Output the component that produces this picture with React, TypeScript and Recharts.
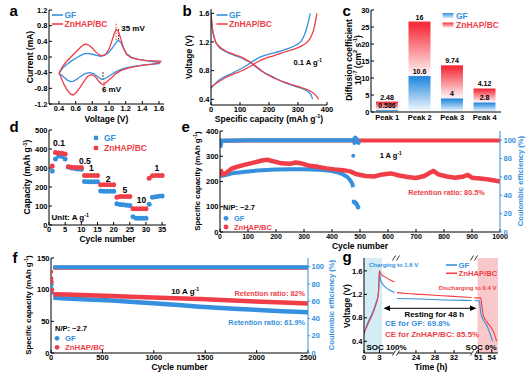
import React from "react";
import {
  LineChart, Line, XAxis, YAxis, ReferenceLine, ReferenceArea,
  BarChart, Bar, LabelList, ScatterChart, Scatter, ComposedChart,
} from "recharts";

const BLUE = "#3590dd";
const RED = "#f03e48";
const FONT = "'Liberation Sans', Arial, Helvetica, sans-serif";

type Pt = [number, number];
const pts = (a: Pt[]) => a.map(([x, y]) => ({ x, y }));

// a: cyclic voltammograms (V, mA)
const cvGF: Pt[] = [
  [0.4, -0.41], [0.45, -0.27], [0.5, -0.18], [0.55, -0.1], [0.6, -0.04], [0.65, 0.03], [0.7, 0.08],
  [0.75, 0.09], [0.8, 0.07], [0.85, 0.04], [0.9, 0.02], [0.95, 0.05], [1.0, 0.12], [1.05, 0.26],
  [1.09, 0.38], [1.11, 0.43], [1.14, 0.38], [1.17, 0.24], [1.21, 0.08], [1.27, -0.01], [1.33, -0.05],
  [1.4, -0.08], [1.5, -0.11], [1.61, -0.14],
  [1.6, -0.17], [1.5, -0.19], [1.4, -0.21], [1.3, -0.24], [1.22, -0.27], [1.15, -0.31], [1.08, -0.38],
  [1.02, -0.46], [0.97, -0.53], [0.93, -0.57], [0.9, -0.56], [0.86, -0.5], [0.82, -0.43], [0.77, -0.4],
  [0.72, -0.42], [0.67, -0.48], [0.62, -0.56], [0.57, -0.62], [0.54, -0.63], [0.5, -0.59], [0.46, -0.52],
  [0.42, -0.45], [0.4, -0.41],
];
const cvZn: Pt[] = [
  [0.4, -0.41], [0.44, -0.25], [0.48, -0.14], [0.52, -0.05], [0.56, 0.04], [0.6, 0.12], [0.64, 0.21],
  [0.68, 0.29], [0.72, 0.33], [0.76, 0.3], [0.8, 0.23], [0.84, 0.13], [0.88, 0.06], [0.92, 0.03],
  [0.96, 0.07], [1.0, 0.2], [1.03, 0.38], [1.06, 0.58], [1.085, 0.7], [1.11, 0.66], [1.14, 0.48],
  [1.17, 0.25], [1.21, 0.07], [1.27, -0.02], [1.35, -0.06], [1.45, -0.09], [1.55, -0.1], [1.62, -0.11],
  [1.6, -0.15], [1.52, -0.18], [1.42, -0.21], [1.32, -0.24], [1.22, -0.29], [1.14, -0.35], [1.08, -0.43],
  [1.03, -0.53], [0.98, -0.62], [0.94, -0.7], [0.91, -0.69], [0.87, -0.6], [0.83, -0.49], [0.79, -0.45],
  [0.75, -0.48], [0.7, -0.62], [0.65, -0.78], [0.61, -0.9], [0.57, -0.97], [0.54, -0.95], [0.5, -0.85],
  [0.46, -0.7], [0.43, -0.55], [0.4, -0.41],
];
const cvTicksX = [0.4, 0.6, 0.8, 1.0, 1.2, 1.4, 1.6];
const cvTicksY = [-1.2, -0.8, -0.4, 0, 0.4, 0.8, 1.2];
const cvMarks = [
  { v: 1.085, from: 0.43, to: 0.86, color: RED },
  { v: 1.115, from: 0.45, to: 0.73, color: "#222" },
  { v: 0.928, from: -0.39, to: -0.6, color: "#222" },
  { v: 0.94, from: -0.64, to: -0.92, color: RED },
];

// b: charge / discharge profiles (mAh/g, V)
const gcdGFDis: Pt[] = [
  [0, 1.6], [3, 1.45], [6, 1.35], [10, 1.27], [16, 1.2], [25, 1.14], [48, 1.07], [77, 1.02], [118, 0.95],
  [140, 0.9], [152, 0.86], [175, 0.79], [210, 0.72], [244, 0.65], [290, 0.58], [325, 0.53], [342, 0.48],
  [348, 0.43], [350, 0.4],
];
const gcdZnDis: Pt[] = [
  [0, 1.6], [2, 1.5], [5, 1.38], [10, 1.28], [16, 1.2], [25, 1.15], [48, 1.08], [77, 1.03], [118, 0.96],
  [152, 0.87], [187, 0.76], [221, 0.69], [267, 0.62], [314, 0.56], [348, 0.5], [362, 0.45], [368, 0.42],
  [371, 0.4],
];
const gcdGFCha: Pt[] = [
  [0, 0.55], [10, 0.6], [25, 0.66], [50, 0.72], [71, 0.76], [95, 0.81], [118, 0.86], [140, 0.92],
  [152, 0.95], [175, 1.0], [200, 1.03], [221, 1.05], [245, 1.08], [267, 1.11], [290, 1.15], [302, 1.18],
  [312, 1.22], [319, 1.27], [326, 1.34], [331, 1.41], [337, 1.5], [342, 1.6],
];
const gcdZnCha: Pt[] = [
  [0, 0.57], [10, 0.6], [25, 0.64], [50, 0.7], [71, 0.74], [95, 0.78], [118, 0.82], [140, 0.87],
  [160, 0.92], [187, 0.97], [210, 1.0], [233, 1.03], [260, 1.07], [279, 1.09], [300, 1.12], [319, 1.16],
  [332, 1.2], [342, 1.25], [348, 1.3], [354, 1.37], [360, 1.48], [365, 1.6],
];

// c: diffusion coefficients (1e-7 cm2/s)
const peaks = ["Peak 1", "Peak 2", "Peak 3", "Peak 4"];
const diffGF = [0.586, 10.6, 4, 2.8];
const diffZn = [2.48, 16, 9.74, 4.12];

// d: rate capability
const rateCycles = [1, 2, 3, 4, 5, 6, 7, 8, 9, 10, 11, 12, 13, 14, 15, 16, 17, 18, 19, 20, 21, 22, 23, 24, 25, 26, 27, 28, 29, 30, 31, 32, 33, 34, 35];
const rateGF = [284, 347, 363, 360, 348, 305, 300, 297, 295, 294, 229, 228, 228, 227, 227, 179, 178, 178, 177, 177, 112, 108, 106, 104, 102, 44, 36, 35, 35, 35, 109, 146, 149, 151, 152];
const rateZn = [310, 381, 379, 377, 374, 306, 304, 303, 302, 302, 260, 260, 260, 260, 260, 212, 212, 212, 212, 212, 146, 150, 150, 150, 150, 85, 85, 85, 85, 85, 246, 259, 260, 260, 260];
const rateLabels = [
  { t: "0.1", c: 3.1, v: 431 }, { t: "0.5", c: 11.1, v: 338 }, { t: "1", c: 13.1, v: 300 }, { t: "2", c: 18.3, v: 245 },
  { t: "5", c: 23.5, v: 187 }, { t: "10", c: 28.6, v: 130 }, { t: "1", c: 33.4, v: 300 },
];

// e: cycling at 1 A/g
const eCapZn: Pt[] = [
  [1, 248], [5, 238], [10, 228], [20, 232], [40, 250], [60, 258], [90, 267], [120, 275], [150, 283],
  [170, 286], [190, 280], [220, 272], [250, 270], [270, 275], [290, 272], [320, 262], [350, 258],
  [380, 252], [410, 248], [440, 245], [465, 240], [485, 230], [520, 222], [550, 220], [580, 228],
  [610, 232], [640, 224], [670, 218], [700, 214], [730, 222], [750, 235], [762, 242], [780, 228],
  [810, 220], [840, 215], [870, 220], [885, 226], [900, 215], [930, 212], [960, 208], [990, 202], [1000, 200],
];
const eCapGF: Pt[] = [
  [1, 222], [20, 226], [50, 234], [100, 240], [150, 245], [200, 248], [250, 249], [300, 249], [350, 247],
  [390, 243], [420, 236], [440, 228], [455, 218], [465, 205], [472, 192], [476, 178],
];
const eCapGFFail: Pt[] = [[478, 120], [481, 118], [484, 115], [487, 112], [490, 106], [493, 98]];
const eCeZn: Pt[] = [[1, 96], [6, 99.3], [100, 99.7], [300, 99.7], [500, 99.7], [700, 99.7], [1000, 99.7]];
const eCeGF: Pt[] = [[1, 92], [6, 99.5], [100, 99.8], [300, 99.8], [470, 99.8], [474, 99.5]];
const eCeGFFail: Pt[] = [[476, 83], [478, 101], [480, 97], [483, 103], [486, 98], [489, 101], [492, 99], [495, 97]];

// f: cycling at 10 A/g
const fCapZn: Pt[] = [[22, 92.8], [150, 92.3], [300, 91.7], [590, 90.1], [915, 88], [1206, 86.5], [1450, 85.3], [1825, 82.5], [2200, 80], [2500, 78]];
const fCapGF: Pt[] = [[22, 87.2], [150, 86], [300, 85], [590, 82.8], [915, 79.5], [1206, 76], [1450, 73], [1825, 69.5], [2200, 66.5], [2500, 64.3]];
const fCapZnStart: Pt[] = [[2, 96], [4, 118], [7, 112], [12, 100]];
const fCapGFStart: Pt[] = [[2, 103], [4, 113], [7, 108], [12, 95]];
const fCeZn: Pt[] = [[22, 98.6], [600, 98.7], [1200, 98.7], [1800, 98.6], [2500, 98.6]];
const fCeGF: Pt[] = [[22, 99.2], [600, 99.3], [1200, 99.3], [1800, 99.2], [2500, 99.2]];
const fCeStart: Pt[] = [[2, 94]];

// g: self-discharge test (h, V)
const gGF1: Pt[] = [[0, 0.52], [0.4, 0.64], [0.9, 0.75], [1.5, 0.86], [2.0, 0.97], [2.4, 1.08], [2.7, 1.17], [2.85, 1.3], [2.95, 1.48], [3.0, 1.6], [3.15, 1.47], [3.5, 1.39], [4.2, 1.32], [5.0, 1.27], [5.9, 1.23]];
const gZn1: Pt[] = [[0, 0.55], [0.4, 0.62], [0.9, 0.72], [1.5, 0.83], [2.0, 0.94], [2.4, 1.05], [2.7, 1.15], [2.85, 1.3], [2.95, 1.5], [3.0, 1.6], [3.15, 1.57], [3.5, 1.53], [4.2, 1.49], [5.0, 1.45], [5.9, 1.41]];
const gGF2: Pt[] = [[20, 1.13], [25, 1.12], [30, 1.105], [35.7, 1.095]];
const gZn2: Pt[] = [[20, 1.23], [22, 1.215], [25, 1.2], [28, 1.185], [31, 1.17], [34, 1.155], [35.7, 1.145]];
const gGF3: Pt[] = [[50.1, 1.09], [51.2, 1.09], [51.5, 0.9], [52.1, 0.76], [52.9, 0.67], [53.6, 0.53], [54.2, 0.4]];
const gZn3: Pt[] = [[50.1, 1.14], [51.5, 1.14], [51.75, 1.02], [52.1, 0.84], [52.9, 0.73], [53.6, 0.66], [54.4, 0.56], [55.1, 0.4]];

type Geo = { x0: number; y0: number; x1: number; y1: number; lw: number; rw: number; mt: number; bh: number };
function frame(g: Geo, rightAxis = false) {
  return {
    style: { position: "absolute" as const, left: g.x0 - g.lw, top: g.y0 - g.mt },
    width: g.x1 - g.x0 + g.lw + g.rw,
    height: g.y1 - g.y0 + g.mt + g.bh,
    margin: { top: g.mt, right: rightAxis ? 0 : g.rw, bottom: 0, left: 0 },
  };
}

const tickFont = { fontSize: 7.5, fontWeight: 700, fill: "#000" };
const axX = { stroke: "#000", tickSize: -3, tickMargin: 5, interval: 0 as const, tick: tickFont, allowDataOverflow: true };
const axY = { stroke: "#000", tickSize: -3, tickMargin: 4.5, interval: 0 as const, tick: tickFont, allowDataOverflow: true };
const f1 = (v: number) => v.toFixed(1);

const topMirror = <XAxis xAxisId="top" orientation="top" type="number" domain={[0, 1]} tick={false} tickLine={false} height={0} stroke="#000" />;
const rightMirror = <YAxis yAxisId="rm" orientation="right" type="number" domain={[0, 1]} tick={false} tickLine={false} width={0} stroke="#000" />;

const dotShape = (color: string, r: number) => (p: any) => <circle cx={p.cx} cy={p.cy} r={r} fill={color} />;

function PanelA() {
  const f = frame({ x0: 49, y0: 10, x1: 164, y1: 104, lw: 30, rw: 8, mt: 4, bh: 12 });
  return (
    <div style={f.style}>
      <LineChart width={f.width} height={f.height} margin={f.margin}>
        <XAxis type="number" dataKey="x" domain={[0.28, 1.66]} ticks={cvTicksX} tickFormatter={f1} height={12} {...axX} />
        <YAxis type="number" domain={[-1.2, 1.2]} ticks={cvTicksY} tickFormatter={f1} width={30} {...axY} />
        {topMirror}
        {rightMirror}
        {cvMarks.map((m, i) => (
          <ReferenceLine key={i} segment={[{ x: m.v, y: m.from }, { x: m.v, y: m.to }]} stroke={m.color} strokeWidth={1.1} strokeDasharray="1.5 1.5" />
        ))}
        <Line data={pts(cvGF)} dataKey="y" type="linear" stroke={BLUE} strokeWidth={1.3} dot={false} isAnimationActive={false} />
        <Line data={pts(cvZn)} dataKey="y" type="linear" stroke={RED} strokeWidth={1.3} dot={false} isAnimationActive={false} />
      </LineChart>
    </div>
  );
}

function PanelB() {
  const f = frame({ x0: 211, y0: 9, x1: 327, y1: 105, lw: 22, rw: 10, mt: 4, bh: 12 });
  return (
    <div style={f.style}>
      <LineChart width={f.width} height={f.height} margin={f.margin}>
        <XAxis type="number" dataKey="x" domain={[0, 400]} ticks={[0, 100, 200, 300, 400]} height={12} {...axX} />
        <YAxis type="number" domain={[0.32, 1.66]} ticks={[0.4, 0.8, 1.2, 1.6]} tickFormatter={f1} width={22} {...axY} />
        {topMirror}
        {rightMirror}
        <Line data={pts(gcdGFDis)} dataKey="y" type="monotone" stroke={BLUE} strokeWidth={1.3} dot={false} isAnimationActive={false} />
        <Line data={pts(gcdGFCha)} dataKey="y" type="monotone" stroke={BLUE} strokeWidth={1.3} dot={false} isAnimationActive={false} />
        <Line data={pts(gcdZnDis)} dataKey="y" type="monotone" stroke={RED} strokeWidth={1.3} dot={false} isAnimationActive={false} />
        <Line data={pts(gcdZnCha)} dataKey="y" type="monotone" stroke={RED} strokeWidth={1.3} dot={false} isAnimationActive={false} />
      </LineChart>
    </div>
  );
}

const peakLabels = (p: any) => {
  const vb = p.viewBox || p;
  const i = p.index ?? 0;
  const cx = vb.x + vb.width / 2;
  return (
    <g>
      <text x={cx} y={vb.y - 2} textAnchor="middle" fontSize={7} fontWeight={700} fill="#000">{diffZn[i]}</text>
      <text x={cx} y={vb.y + vb.height - 2} textAnchor="middle" fontSize={7} fontWeight={700} fill="#000">{diffGF[i]}</text>
    </g>
  );
};

function PanelC() {
  const f = frame({ x0: 371, y0: 10, x1: 501, y1: 112, lw: 18, rw: 4, mt: 4, bh: 12 });
  const rows = peaks.map((p, i) => ({ peak: p, gf: diffGF[i], zn: diffZn[i] }));
  return (
    <div style={f.style}>
      <BarChart width={f.width} height={f.height} margin={f.margin} data={rows} barSize={22}>
        <defs>
          <linearGradient id="barBlue" x1="0" y1="0" x2="0" y2="1">
            <stop offset="0" stopColor="#2b8de0" />
            <stop offset="0.08" stopColor="#2b8de0" />
            <stop offset="1" stopColor="#2b8de0" stopOpacity={0.03} />
          </linearGradient>
          <linearGradient id="barRed" x1="0" y1="0" x2="0" y2="1">
            <stop offset="0" stopColor="#f5303c" />
            <stop offset="0.08" stopColor="#f5303c" />
            <stop offset="1" stopColor="#f5303c" stopOpacity={0.03} />
          </linearGradient>
        </defs>
        <XAxis dataKey="peak" height={12} {...axX} tickSize={0} tickMargin={3} />
        <YAxis type="number" domain={[0, 30]} ticks={[0, 5, 10, 15, 20, 25, 30]} width={18} {...axY} />
        {topMirror}
        {rightMirror}
        <Bar dataKey="gf" stackId="s" fill="url(#barBlue)" isAnimationActive={false} />
        <Bar dataKey="zn" stackId="s" fill="url(#barRed)" isAnimationActive={false}>
          <LabelList dataKey="zn" content={peakLabels} />
        </Bar>
      </BarChart>
    </div>
  );
}

function PanelD() {
  const f = frame({ x0: 49, y0: 130, x1: 166, y1: 225, lw: 24, rw: 6, mt: 4, bh: 12 });
  const gf = rateCycles.map((c, i) => ({ x: c, y: rateGF[i] }));
  const zn = rateCycles.map((c, i) => ({ x: c, y: rateZn[i] }));
  return (
    <div style={f.style}>
      <ScatterChart width={f.width} height={f.height} margin={f.margin}>
        <XAxis type="number" dataKey="x" domain={[0, 36.2]} ticks={[0, 5, 10, 15, 20, 25, 30, 35]} height={12} {...axX} />
        <YAxis type="number" dataKey="y" domain={[0, 500]} ticks={[0, 100, 200, 300, 400, 500]} width={24} {...axY} />
        {topMirror}
        {rightMirror}
        <Scatter data={gf} fill={BLUE} shape={dotShape(BLUE, 2.5)} isAnimationActive={false} />
        <Scatter data={zn} fill={RED} shape={dotShape(RED, 2.5)} isAnimationActive={false} />
      </ScatterChart>
    </div>
  );
}

const ceAxisTick = { ...tickFont, fill: BLUE };

function PanelE() {
  const f = frame({ x0: 220, y0: 131, x1: 500, y1: 232, lw: 20, rw: 22, mt: 4, bh: 12 }, true);
  return (
    <div style={f.style}>
      <ComposedChart width={f.width} height={f.height} margin={f.margin}>
        <XAxis type="number" dataKey="x" domain={[0, 1000]} ticks={[0, 100, 200, 300, 400, 500, 600, 700, 800, 900, 1000]} height={12} {...axX} tick={{ ...tickFont, fontSize: 7 }} />
        <YAxis yAxisId="cap" type="number" dataKey="y" domain={[0, 400]} ticks={[0, 100, 200, 300, 400]} width={20} {...axY} />
        <YAxis yAxisId="ce" orientation="right" type="number" dataKey="y" domain={[0, 110]} ticks={[0, 20, 40, 60, 80, 100]} width={22} {...axY} stroke={BLUE} tick={ceAxisTick} tickSize={2} tickMargin={1.5} />
        {topMirror}
        <Line yAxisId="ce" data={pts(eCeZn)} dataKey="y" type="linear" stroke={RED} strokeWidth={4} dot={false} isAnimationActive={false} />
        <Line yAxisId="ce" data={pts(eCeGF)} dataKey="y" type="linear" stroke={BLUE} strokeWidth={4} dot={false} isAnimationActive={false} />
        <Scatter yAxisId="ce" data={pts(eCeGFFail)} fill={BLUE} shape={dotShape(BLUE, 2)} isAnimationActive={false} />
        <Line yAxisId="cap" data={pts(eCapGF)} dataKey="y" type="linear" stroke={BLUE} strokeWidth={4} strokeLinejoin="round" dot={false} isAnimationActive={false} />
        <Line yAxisId="cap" data={pts(eCapZn)} dataKey="y" type="linear" stroke={RED} strokeWidth={4.5} strokeLinejoin="round" dot={false} isAnimationActive={false} />
        <Scatter yAxisId="cap" data={pts(eCapGFFail)} fill={BLUE} shape={dotShape(BLUE, 2.2)} isAnimationActive={false} />
      </ComposedChart>
    </div>
  );
}

function PanelF() {
  const f = frame({ x0: 51, y0: 258, x1: 308, y1: 353, lw: 22, rw: 20, mt: 4, bh: 12 }, true);
  return (
    <div style={f.style}>
      <ComposedChart width={f.width} height={f.height} margin={f.margin}>
        <XAxis type="number" dataKey="x" domain={[0, 2500]} ticks={[0, 500, 1000, 1500, 2000, 2500]} height={12} {...axX} />
        <YAxis yAxisId="cap" type="number" dataKey="y" domain={[0, 150]} ticks={[0, 50, 100, 150]} width={22} {...axY} />
        <YAxis yAxisId="ce" orientation="right" type="number" dataKey="y" domain={[0, 110]} ticks={[0, 20, 40, 60, 80, 100]} width={20} {...axY} stroke={BLUE} tick={ceAxisTick} tickSize={2} tickMargin={1.5} />
        {topMirror}
        <Line yAxisId="ce" data={pts(fCeZn)} dataKey="y" type="linear" stroke={RED} strokeWidth={4} dot={false} isAnimationActive={false} />
        <Line yAxisId="ce" data={pts(fCeGF)} dataKey="y" type="linear" stroke={BLUE} strokeWidth={4} dot={false} isAnimationActive={false} />
        <Scatter yAxisId="ce" data={pts(fCeStart)} fill={RED} shape={dotShape(RED, 2)} isAnimationActive={false} />
        <Line yAxisId="cap" data={pts(fCapGF)} dataKey="y" type="linear" stroke={BLUE} strokeWidth={4.5} dot={false} isAnimationActive={false} />
        <Line yAxisId="cap" data={pts(fCapZn)} dataKey="y" type="linear" stroke={RED} strokeWidth={4.5} dot={false} isAnimationActive={false} />
        <Scatter yAxisId="cap" data={pts(fCapGFStart)} fill={BLUE} shape={dotShape(BLUE, 2)} isAnimationActive={false} />
        <Scatter yAxisId="cap" data={pts(fCapZnStart)} fill={RED} shape={dotShape(RED, 2)} isAnimationActive={false} />
      </ComposedChart>
    </div>
  );
}

const gTicksY = [0.4, 0.8, 1.2, 1.6];
const gDomainY: [number, number] = [0.2, 1.82];

function GSegment({ geo, domain, ticks, gf, zn, first, last, shade }: any) {
  const f = frame(geo);
  return (
    <div style={f.style}>
      <LineChart width={f.width} height={f.height} margin={f.margin}>
        <XAxis type="number" dataKey="x" domain={domain} ticks={ticks} height={12} {...axX} />
        {first ? (
          <YAxis type="number" domain={gDomainY} ticks={gTicksY} tickFormatter={f1} width={geo.lw} {...axY} />
        ) : (
          <YAxis type="number" domain={gDomainY} hide allowDataOverflow />
        )}
        {topMirror}
        {last ? rightMirror : null}
        {shade ? <ReferenceArea x1={shade.x1} x2={shade.x2} fill={shade.color} fillOpacity={1} stroke="none" ifOverflow="hidden" /> : null}
        <Line data={pts(gf)} dataKey="y" type="monotone" stroke={BLUE} strokeWidth={1.1} dot={false} isAnimationActive={false} />
        <Line data={pts(zn)} dataKey="y" type="monotone" stroke={RED} strokeWidth={1.1} dot={false} isAnimationActive={false} />
      </LineChart>
    </div>
  );
}

function PanelG() {
  return (
    <>
      <GSegment geo={{ x0: 364, y0: 258, x1: 396, y1: 353, lw: 18, rw: 0, mt: 4, bh: 12 }} domain={[0, 6.2]} ticks={[0, 3]} gf={gGF1} zn={gZn1} first shade={{ x1: 0, x2: 3.5, color: "#d4ecf3" }} />
      <GSegment geo={{ x0: 396, y0: 258, x1: 474, y1: 353, lw: 0, rw: 0, mt: 4, bh: 12 }} domain={[19.8, 36.2]} ticks={[24, 28, 32]} gf={gGF2} zn={gZn2} />
      <GSegment geo={{ x0: 474, y0: 258, x1: 498, y1: 353, lw: 0, rw: 6, mt: 4, bh: 12 }} domain={[50, 55.4]} ticks={[51, 54]} gf={gGF3} zn={gZn3} last shade={{ x1: 50.8, x2: 55.4, color: "#f9c8ca" }} />
    </>
  );
}

function Txt({ x, y, size = 8.5, fill = "#000", anchor = "middle", rot, children }: any) {
  return (
    <text x={x} y={y + size * 0.36} fontSize={size} fontWeight={700} fill={fill} textAnchor={anchor}
      transform={rot ? `rotate(${rot} ${x} ${y})` : undefined}>
      {children}
    </text>
  );
}

const sup = (t: string, s: number, rest = "\u200a") => [
  <tspan key="s" dy={-s * 0.38} fontSize={s * 0.65}>{t}</tspan>,
  <tspan key="r" dy={s * 0.38}>{rest}</tspan>,
];

function LegendLine({ x, y, color, label, size = 8.5 }: any) {
  return (
    <g>
      <line x1={x} y1={y} x2={x + 11} y2={y} stroke={color} strokeWidth={1.6} />
      <Txt x={x + 12.5} y={y} size={size} fill={color} anchor="start">{label}</Txt>
    </g>
  );
}

function LegendDot({ x, y, color, label, size = 8 }: any) {
  return (
    <g>
      <circle cx={x} cy={y} r={2.4} fill={color} />
      <Txt x={x + 8} y={y} size={size} fill={color} anchor="start">{label}</Txt>
    </g>
  );
}

function Overlay() {
  const letters = [
    { t: "a", x: 9.5, y: 15.5 }, { t: "b", x: 182.5, y: 15.5 }, { t: "c", x: 342.5, y: 15.5 },
    { t: "d", x: 9.5, y: 132 }, { t: "e", x: 181.5, y: 131.5 }, { t: "f", x: 12.5, y: 262.5 }, { t: "g", x: 342.5, y: 261.5 },
  ];
  // d-panel rate labels use the same linear mapping as the chart box
  const dx = (c: number) => 49 + (c / 36.2) * 117;
  const dy = (v: number) => 225 - (v / 500) * 95;
  return (
    <svg width={530} height={372} style={{ position: "absolute", left: 0, top: 0, pointerEvents: "none", fontFamily: FONT }}>
      <defs>
        <linearGradient id="legBlue" x1="0" y1="0" x2="0" y2="1">
          <stop offset="0" stopColor="#2b8de0" />
          <stop offset="1" stopColor="#2b8de0" stopOpacity={0.15} />
        </linearGradient>
        <linearGradient id="legRed" x1="0" y1="0" x2="0" y2="1">
          <stop offset="0" stopColor="#f5303c" />
          <stop offset="1" stopColor="#f5303c" stopOpacity={0.15} />
        </linearGradient>
      </defs>
      {letters.map((l) => (
        <text key={l.t} x={l.x} y={l.y} fontSize={15} fontWeight={700} fill="#000">{l.t}</text>
      ))}

      {/* a */}
      <Txt x={30} y={57} rot={-90}>Current (mA)</Txt>
      <Txt x={106.5} y={118.5}>Voltage (V)</Txt>
      <LegendLine x={52} y={15} color={BLUE} label="GF" />
      <LegendLine x={52} y={24} color={RED} label="ZnHAP/BC" />
      <Txt x={133} y={28.5} size={8}>35 mV</Txt>
      <Txt x={111.5} y={89} size={8}>6 mV</Txt>

      {/* b */}
      <Txt x={189} y={57} rot={-90}>Voltage (V)</Txt>
      <Txt x={269} y={118.5}>Specific capacity (mAh g{sup("-1", 8.5, ")")}</Txt>
      <LegendLine x={216.5} y={15} color={BLUE} label="GF" />
      <LegendLine x={216.5} y={24} color={RED} label="ZnHAP/BC" />
      <Txt x={308} y={62} size={7.5}>0.1 A g{sup("-1", 7.5)}</Txt>

      {/* c */}
      <Txt x={349} y={60} rot={-90}>Diffusion coefficient</Txt>
      <Txt x={357.5} y={60} rot={-90}>10{sup("-7", 8.5, " (cm")}{sup("2", 8.5, " s")}{sup("-1", 8.5, ")")}</Txt>
      <rect x={442.5} y={13} width={11} height={5} fill="url(#legBlue)" />
      <Txt x={456} y={15.5} fill={BLUE} anchor="start">GF</Txt>
      <rect x={442.5} y={22.5} width={11} height={5} fill="url(#legRed)" />
      <Txt x={456} y={25} fill={RED} anchor="start">ZnHAP/BC</Txt>

      {/* d */}
      <Txt x={27} y={177} rot={-90}>Capacity (mAh g{sup("-1", 8.5, ")")}</Txt>
      <Txt x={107.5} y={238.5}>Cycle number</Txt>
      <LegendDot x={96} y={138} color={BLUE} label="GF" size={8.5} />
      <LegendDot x={96} y={148} color={RED} label="ZnHAP/BC" size={8.5} />
      {rateLabels.map((r, i) => (
        <Txt key={i} x={dx(r.c)} y={dy(r.v)} size={8.5}>{r.t}</Txt>
      ))}
      <Txt x={51.5} y={217.5} size={8} anchor="start">Unit: A g{sup("-1", 8)}</Txt>

      {/* e */}
      <Txt x={197} y={181} size={7.8} rot={-90}>Specific capacity (mAh g{sup("-1", 7.8, ")")}</Txt>
      <Txt x={520} y={181} size={7.6} rot={-90} fill={BLUE}>Coulombic efficiency (%)</Txt>
      <Txt x={360} y={246}>Cycle number</Txt>
      <Txt x={391} y={155.5} size={7.5}>1 A g{sup("-1", 7.5)}</Txt>
      <Txt x={446.5} y={192.5} size={7.3} fill={RED}>Retention ratio: 80.5%</Txt>
      <Txt x={223} y={207.3} size={7.5} anchor="start">N/P: ~2.7</Txt>
      <LegendDot x={226} y={218.3} color={BLUE} label="GF" size={7.5} />
      <LegendDot x={226} y={227} color={RED} label="ZnHAP/BC" size={7.5} />

      {/* f */}
      <Txt x={28} y={305} size={7.8} rot={-90}>Specific capacity (mAh g{sup("-1", 7.8, ")")}</Txt>
      <Txt x={331.5} y={305} size={7.6} rot={-90} fill={BLUE}>Coulombic efficiency (%)</Txt>
      <Txt x={179.5} y={366.5}>Cycle number</Txt>
      <Txt x={185.5} y={290.7} size={8}>10 A g{sup("-1", 8)}</Txt>
      <Txt x={305} y={293.3} size={7.3} fill={RED} anchor="end">Retention ratio: 82%</Txt>
      <Txt x={305} y={322.7} size={7.3} fill={BLUE} anchor="end">Retention ratio: 61.9%</Txt>
      <Txt x={55} y={328.5} size={7.5} anchor="start">N/P: ~2.7</Txt>
      <LegendDot x={57} y={338.3} color={BLUE} label="GF" size={7.8} />
      <LegendDot x={57} y={347.3} color={RED} label="ZnHAP/BC" size={7.8} />

      {/* g */}
      <Txt x={347} y={306} rot={-90}>Voltage (V)</Txt>
      <Txt x={431} y={366.5}>Time (h)</Txt>
      {[396, 474].map((x) =>
        [258, 353].map((y) => (
          <g key={`${x}-${y}`}>
            <rect x={x - 2.5} y={y - 1.5} width={5} height={3} fill="#fff" />
            <line x1={x - 3.5} y1={y + 2.5} x2={x - 0.5} y2={y - 2.5} stroke="#000" strokeWidth={0.8} />
            <line x1={x + 0.5} y1={y + 2.5} x2={x + 3.5} y2={y - 2.5} stroke="#000" strokeWidth={0.8} />
          </g>
        ))
      )}
      <Txt x={369} y={265} size={6} fill={BLUE} anchor="start">Charging to 1.6 V</Txt>
      <LegendLine x={446} y={265} color={BLUE} label="GF" size={7.7} />
      <LegendLine x={446} y={273.3} color={RED} label="ZnHAP/BC" size={7.7} />
      <Txt x={496.5} y={288.3} size={6} fill={RED} anchor="end">Discharging to 0.4 V</Txt>
      <line x1={388} y1={308.3} x2={472} y2={308.3} stroke="#000" strokeWidth={1} />
      <polygon points="383.5,308.3 390,305.6 390,311" fill="#000" />
      <polygon points="476.5,308.3 470,305.6 470,311" fill="#000" />
      <Txt x={434.3} y={314.5} size={7.9}>Resting for 48 h</Txt>
      <Txt x={385} y={323.3} size={8} fill={BLUE} anchor="start">CE for GF: 69.8%</Txt>
      <Txt x={385} y={334.3} size={8} fill={RED} anchor="start">CE for ZnHAP/BC: 85.5%</Txt>
      <Txt x={366.5} y={347.5} size={8} anchor="start">SOC 100%</Txt>
      <Txt x={496.7} y={347.5} size={8} anchor="end">SOC 0%</Txt>
    </svg>
  );
}

export default function App() {
  return (
    <div style={{ position: "absolute", left: 0, top: 0, width: 530, height: 372, background: "#fff", fontFamily: FONT, overflow: "hidden" }}>
      <PanelA />
      <PanelB />
      <PanelC />
      <PanelD />
      <PanelE />
      <PanelF />
      <PanelG />
      <Overlay />
    </div>
  );
}
